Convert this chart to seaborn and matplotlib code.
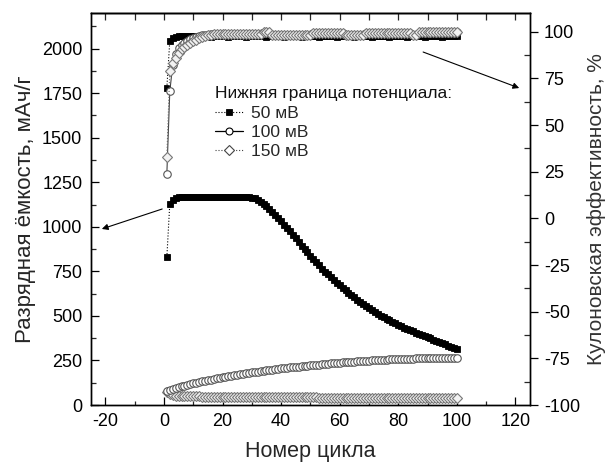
import matplotlib
matplotlib.use("Agg")
import matplotlib.pyplot as plt
from matplotlib.lines import Line2D
from matplotlib.ticker import MultipleLocator, NullLocator
import seaborn as sns

# Cycle numbers
cycles = list(range(1, 101))

# Discharge capacity, mAh/g (left axis)
cap_50 = [830, 1130, 1150, 1160, 1165, 1168, 1170, 1170, 1170, 1170,
          1170, 1170, 1170, 1170, 1170, 1170, 1170, 1170, 1170, 1170,
          1168, 1168, 1168, 1168, 1168, 1168, 1168, 1168, 1166, 1164,
          1160, 1152, 1142, 1130, 1116, 1101, 1085, 1068, 1050, 1032,
          1013, 994, 975, 955, 935, 915, 895, 876, 857, 838,
          819, 800, 783, 766, 749, 733, 717, 701, 686, 671,
          657, 643, 630, 617, 604, 592, 580, 568, 557, 546,
          533, 522, 512, 502, 493, 484, 475, 466, 458, 450,
          442, 434, 427, 420, 413, 406, 400, 393, 387, 381,
          374, 367, 360, 353, 347, 340, 333, 326, 319, 312]

cap_100 = [80, 85, 90, 95, 100, 105, 109, 113, 117, 121,
           125, 129, 132, 136, 139, 143, 146, 149, 152, 155,
           158, 161, 164, 167, 170, 172, 175, 178, 180, 183,
           185, 188, 190, 192, 195, 197, 199, 201, 203, 205,
           207, 209, 211, 213, 215, 216, 218, 220, 221, 223,
           224, 226, 227, 229, 230, 232, 233, 235, 236, 238,
           239, 240, 242, 243, 244, 245, 246, 247, 248, 249,
           250, 251, 252, 253, 254, 255, 256, 256, 257, 258,
           258, 259, 259, 260, 260, 261, 261, 262, 262, 262,
           263, 263, 263, 264, 264, 264, 265, 265, 265, 265]

cap_150 = [72, 62, 56, 53, 51, 50, 49, 49, 48, 48,
           48, 48, 47, 47, 47, 47, 47, 46, 46, 46,
           46, 46, 46, 46, 45, 45, 45, 45, 45, 45,
           45, 45, 44, 44, 44, 44, 44, 44, 44, 44,
           44, 44, 43, 43, 43, 43, 43, 43, 43, 43,
           43, 43, 42, 42, 42, 42, 42, 42, 42, 42,
           42, 42, 42, 41, 41, 41, 41, 41, 41, 41,
           41, 41, 41, 41, 41, 41, 41, 41, 41, 41,
           41, 41, 40, 40, 40, 40, 40, 40, 40, 40,
           40, 40, 40, 40, 40, 40, 40, 40, 40, 40]

# Coulombic efficiency, % (right axis)
ce_50 = [70, 95, 96.5, 97, 97.5, 97.5, 97.8, 97.5, 97.6, 97.5,
         97.4, 97.5, 97.6, 97.5, 97.5, 97.4, 97.5, 97.5, 97.6, 97.5,
         97.5, 97.4, 97.5, 97.5, 97.6, 97.5, 97.5, 97.4, 97.5, 97.5,
         97.5, 97.6, 97.5, 97.5, 97.4, 97.5, 97.5, 97.6, 97.5, 97.5,
         97.4, 97.5, 97.5, 97.6, 97.5, 97.5, 97.4, 97.5, 97.5, 97.6,
         97.5, 97.5, 97.4, 97.5, 97.5, 97.6, 97.5, 97.5, 97.4, 97.5,
         97.5, 97.6, 97.5, 97.5, 97.4, 97.5, 97.5, 97.6, 97.5, 97.5,
         97.4, 97.5, 97.5, 97.6, 97.5, 97.5, 97.4, 97.5, 97.5, 97.6,
         97.5, 97.5, 97.4, 97.5, 97.5, 97.6, 97.5, 97.5, 97.4, 97.5,
         97.5, 97.6, 97.5, 97.5, 97.4, 97.5, 97.5, 97.6, 97.5, 97.5]

ce_100 = [24, 68, 82, 88, 91, 93, 94, 95, 96, 96.5,
          97, 97.5, 98, 98.2, 98.4, 98.5, 98.5, 98.6, 98.5, 98.5,
          98.6, 98.5, 98.5, 98.6, 98.5, 98.5, 98.6, 98.5, 98.5, 98.6,
          98.5, 98.5, 98.6, 99.5, 99.6, 99.5, 98.3, 98.2, 98.3, 98.2,
          98.3, 98.2, 98.3, 98.2, 98.3, 98.2, 98.3, 98.2, 98.3, 98.2,
          99.2, 99.3, 99.2, 99.3, 99.2, 99.3, 99.2, 99.3, 99.2, 99.3,
          99.2, 98.1, 98.0, 98.1, 98.0, 98.1, 98.0, 98.1, 99.3, 99.4,
          99.3, 99.4, 99.3, 99.4, 99.3, 99.4, 99.3, 99.4, 99.3, 99.4,
          99.3, 99.4, 99.3, 99.4, 98.2, 98.1, 99.5, 99.6, 99.5, 99.6,
          99.5, 99.6, 99.5, 99.6, 99.5, 99.6, 99.5, 99.6, 99.5, 99.6]

ce_150 = [33, 79, 83, 86, 88.5, 90.5, 92, 93, 94, 95,
          95.8, 96.5, 97, 97.5, 98, 98.3, 98.8, 98.8, 98.8, 98.8,
          98.8, 98.8, 98.8, 98.8, 98.8, 98.8, 98.8, 98.8, 98.8, 98.8,
          98.8, 98.8, 98.8, 99.8, 99.9, 99.8, 98.3, 98.3, 98.3, 98.3,
          98.3, 98.3, 98.3, 98.3, 98.3, 98.3, 98.3, 98.3, 98.3, 98.3,
          99.4, 99.4, 99.4, 99.4, 99.4, 99.4, 99.4, 99.4, 99.4, 99.4,
          99.4, 98.2, 98.2, 98.2, 98.2, 98.2, 98.2, 98.2, 99.5, 99.5,
          99.5, 99.5, 99.5, 99.5, 99.5, 99.5, 99.5, 99.5, 99.5, 99.5,
          99.5, 99.5, 99.5, 99.5, 98.3, 98.3, 99.7, 99.7, 99.7, 99.7,
          99.7, 99.7, 99.7, 99.7, 99.7, 99.7, 99.7, 99.7, 99.7, 99.7]

series_labels = ["50 мВ", "100 мВ", "150 мВ"]
legend_title = "Нижняя граница потенциала:"

sns.set_style("ticks")
plt.rcParams["font.family"] = ["Liberation Sans", "DejaVu Sans"]
plt.rcParams["axes.edgecolor"] = "black"
plt.rcParams["axes.linewidth"] = 1.0
plt.rcParams["axes.unicode_minus"] = False

fig = plt.figure(figsize=(6.1, 4.66), dpi=100)
ax = fig.add_axes([0.1487, 0.1309, 0.7202, 0.8412])
ax2 = ax.twinx()

sq = dict(marker="s", markersize=4.8, markerfacecolor="black",
          markeredgecolor="black", markeredgewidth=0.6)
ci = dict(marker="o", markersize=5.4, markerfacecolor="white",
          markeredgecolor="#555555", markeredgewidth=0.8)
di = dict(marker="D", markersize=5.0, markerfacecolor="#f2f2f2",
          markeredgecolor="#777777", markeredgewidth=0.8)

# Capacity curves
sns.lineplot(x=cycles, y=cap_150, ax=ax, color="#666666", linestyle=":",
             linewidth=0.8, **di)
sns.lineplot(x=cycles, y=cap_100, ax=ax, color="#444444", linestyle="-",
             linewidth=0.8, **ci)
sns.lineplot(x=cycles, y=cap_50, ax=ax, color="black", linestyle=":",
             linewidth=0.8, **sq)

# Coulombic efficiency curves
sns.lineplot(x=cycles, y=ce_50, ax=ax2, color="black", linestyle=":",
             linewidth=0.8, **sq)
sns.lineplot(x=cycles, y=ce_100, ax=ax2, color="#444444", linestyle="-",
             linewidth=0.8, **ci)
sns.lineplot(x=cycles, y=ce_150, ax=ax2, color="#666666", linestyle=":",
             linewidth=0.8, **di)

# Axes limits and ticks
ax.set_xlim(-25, 125)
ax.set_ylim(0, 2200)
ax2.set_ylim(-100, 110)

ax.xaxis.set_major_locator(MultipleLocator(20))
ax.xaxis.set_minor_locator(MultipleLocator(10))
ax.yaxis.set_major_locator(MultipleLocator(250))
ax.yaxis.set_minor_locator(MultipleLocator(125))
ax2.yaxis.set_major_locator(MultipleLocator(25))
ax2.yaxis.set_minor_locator(MultipleLocator(12.5))

ax.tick_params(axis="x", which="major", direction="in", length=6, width=0.9,
               labelsize=13, pad=6, top=False, colors="black")
ax.tick_params(axis="x", which="minor", direction="in", length=3, width=0.9,
               top=False)
ax.tick_params(axis="y", which="major", direction="in", length=6, width=0.9,
               labelsize=13, pad=6, colors="black")
ax.tick_params(axis="y", which="minor", direction="in", length=3.5, width=0.9)
ax2.tick_params(axis="y", which="major", direction="out", length=6, width=0.9,
                labelsize=13, pad=4, colors="black")
ax2.tick_params(axis="y", which="minor", direction="in", length=4, width=0.9)

top = ax.secondary_xaxis("top")
top.set_xticks(list(range(-20, 121, 10)))
top.tick_params(axis="x", direction="in", length=5, width=0.9, labeltop=False)
top.xaxis.set_minor_locator(NullLocator())

for a in (ax, ax2):
    for s in a.spines.values():
        s.set_visible(True)
        s.set_color("black")
        s.set_linewidth(1.0)

ax.set_xlabel("Номер цикла", fontsize=15.5, labelpad=8)
ax.set_ylabel("Разрядная ёмкость, мАч/г", fontsize=16, labelpad=4)
ax2.set_ylabel("Кулоновская эффективность, %", fontsize=15, labelpad=5,
               color="#333333")

# Legend: title as a separate line of text, entries below it
ax2.text(0.283, 0.795, legend_title, transform=ax.transAxes, fontsize=12.5,
         ha="left", va="center", color="#111111")
handles = [
    Line2D([], [], color="black", linestyle=":", linewidth=0.8, **sq),
    Line2D([], [], color="black", linestyle="-", linewidth=0.9,
           marker="o", markersize=5, markerfacecolor="white",
           markeredgecolor="black", markeredgewidth=0.8),
    Line2D([], [], color="#444444", linestyle=":", linewidth=0.8,
           marker="D", markersize=4.8, markerfacecolor="white",
           markeredgecolor="#444444", markeredgewidth=0.8),
]
ax2.legend(handles, series_labels, loc="upper left",
           bbox_to_anchor=(0.283, 0.762), frameon=False, fontsize=12.5,
           handlelength=1.6, handletextpad=0.5, labelspacing=0.2,
           borderpad=0, borderaxespad=0)

# Arrows pointing to the relevant axes
arrow = dict(arrowstyle="-|>", color="black", lw=0.8, mutation_scale=9,
             shrinkA=0, shrinkB=0)
ax.annotate("", xy=(-21.2, 988), xytext=(-0.6, 1100), arrowprops=arrow)
ax2.annotate("", xy=(121.3, 69.8), xytext=(88.5, 89.1), arrowprops=arrow)

fig.savefig("out.png", dpi=100)
